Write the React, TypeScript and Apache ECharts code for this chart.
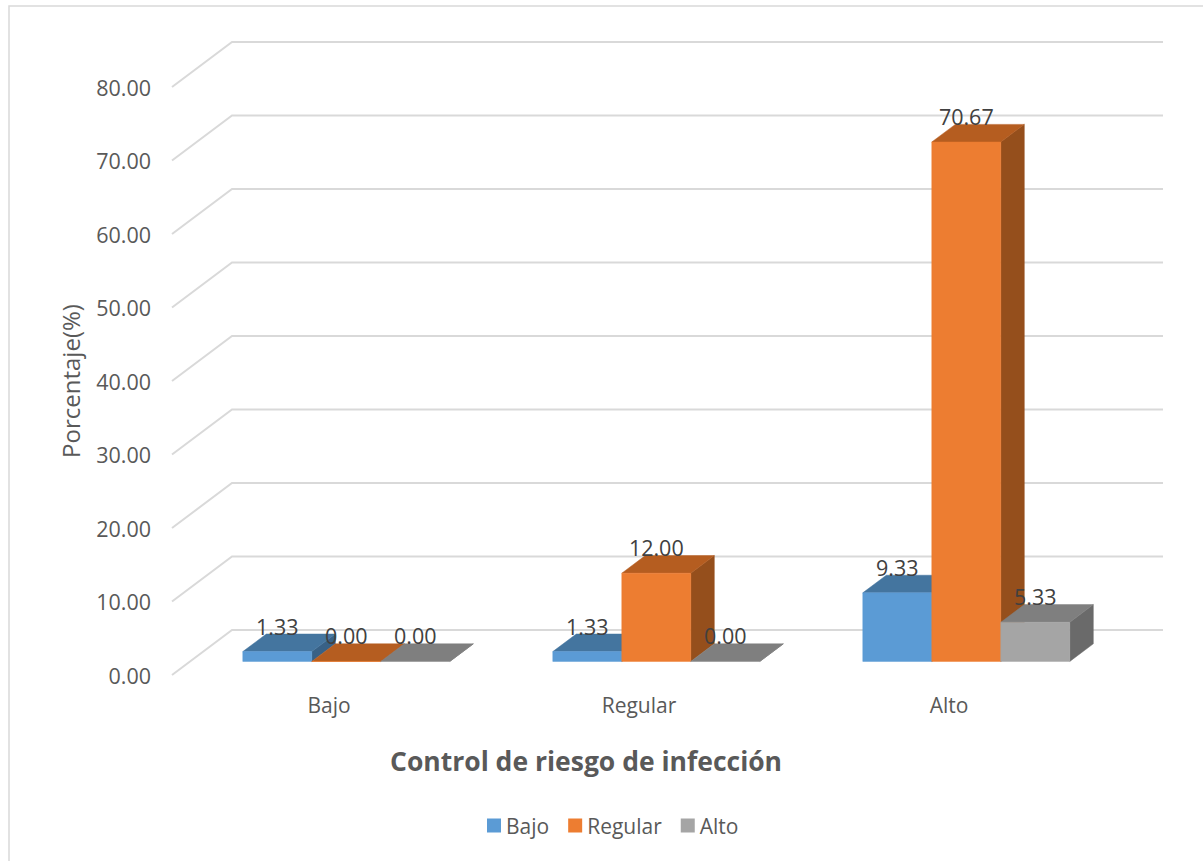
import React, { useEffect, useRef } from "react";
import * as echarts from "echarts";

const categories = ["Bajo", "Regular", "Alto"];
const bajoValues = [1.33, 1.33, 9.33];
const regularValues = [0, 12, 70.67];
const altoValues = [0, 0, 5.33];
const yTicks = [0, 10, 20, 30, 40, 50, 60, 70, 80];

const FONT = "'Open Sans'";
const LABEL_SIZE = 21.5;

// Projection of the oblique box: wall depth, floor inset of the bars and bar depth.
const WALL_DX = 60;
const WALL_DY = -45;
const INSET_DX = 19.3;
const INSET_DY = -13.6;
const BAR_DX = 23.5;
const BAR_DY = -17.6;
const BAR_WIDTH = 69;

type Shades = { front: string; top: string; side: string };
const bajoShades: Shades = { front: "#5B9BD5", top: "#44759F", side: "#386186" };
const regularShades: Shades = { front: "#ED7D31", top: "#B55D20", side: "#954F1C" };
const altoShades: Shades = { front: "#A5A5A5", top: "#7F7F7F", side: "#6A6A6A" };

const poly = (points: number[][], fill: string) => ({
  type: "polygon",
  shape: { points },
  style: { fill, stroke: fill, lineWidth: 0.5 },
  silent: true,
});

function barRenderer(order: number, shades: Shades) {
  return (_params: any, api: any) => {
    const cat = api.value(0);
    const val = api.value(1);
    const base = api.coord([cat, 0]);
    const head = api.coord([cat, val]);
    const x0 = base[0] + INSET_DX + (order - 1.5) * BAR_WIDTH;
    const x1 = x0 + BAR_WIDTH;
    const yb = base[1] + INSET_DY;
    const yt = head[1] + INSET_DY;
    return {
      type: "group",
      children: [
        poly(
          [
            [x1, yb],
            [x1 + BAR_DX, yb + BAR_DY],
            [x1 + BAR_DX, yt + BAR_DY],
            [x1, yt],
          ],
          shades.side
        ),
        poly(
          [
            [x0, yt],
            [x1, yt],
            [x1 + BAR_DX, yt + BAR_DY],
            [x0 + BAR_DX, yt + BAR_DY],
          ],
          shades.top
        ),
        poly(
          [
            [x0, yb],
            [x1, yb],
            [x1, yt],
            [x0, yt],
          ],
          shades.front
        ),
        {
          type: "text",
          z2: 50,
          silent: true,
          style: {
            x: (x0 + x1) / 2,
            y: yt + BAR_DY + 3,
            text: Number(val).toFixed(2),
            fill: "#404040",
            font: `${LABEL_SIZE}px ${FONT}`,
            align: "center",
            verticalAlign: "bottom",
          },
        },
      ],
    };
  };
}

function wallRenderer(params: any, api: any) {
  const p = api.coord([0, api.value(1)]);
  const left = params.coordSys.x;
  const right = left + params.coordSys.width + WALL_DX + 1;
  return {
    type: "polyline",
    silent: true,
    shape: {
      points: [
        [left, p[1]],
        [left + WALL_DX, p[1] + WALL_DY],
        [right, p[1] + WALL_DY],
      ],
    },
    style: { fill: "none", stroke: "#D9D9D9", lineWidth: 2 },
  };
}

const asSeries = (name: string, values: number[], order: number, shades: Shades) => ({
  type: "custom",
  name,
  z: 3,
  clip: false,
  itemStyle: { color: shades.front },
  renderItem: barRenderer(order, shades),
  data: values.map((v, i) => [i, v]),
});

export default function App() {
  const ref = useRef<HTMLDivElement>(null);

  useEffect(() => {
    const chart = echarts.init(ref.current!, undefined, { renderer: "svg" });
    chart.setOption({
      animation: false,
      backgroundColor: "#FFFFFF",
      textStyle: { fontFamily: FONT },
      grid: { left: 172, top: 87, width: 930, height: 588, containLabel: false },
      title: {
        text: "Control de riesgo de infección",
        left: 385,
        top: 742,
        textStyle: { fontFamily: FONT, fontSize: 26.5, fontWeight: "bold", color: "#595959" },
      },
      legend: {
        left: 482,
        top: 810,
        itemWidth: 14,
        itemHeight: 14,
        itemGap: 19,
        selectedMode: false,
        icon: "rect",
        data: ["Bajo", "Regular", "Alto"],
        textStyle: { fontFamily: FONT, fontSize: 21, color: "#595959" },
      },
      xAxis: {
        type: "category",
        data: categories,
        axisLine: { show: false },
        axisTick: { show: false },
        splitLine: { show: false },
        axisLabel: {
          margin: 19,
          padding: [0, 0, 0, 4],
          fontFamily: FONT,
          fontSize: 21,
          color: "#595959",
        },
      },
      yAxis: {
        type: "value",
        min: 0,
        max: 80,
        interval: 10,
        name: "Porcentaje(%)",
        nameLocation: "middle",
        nameGap: 90,
        nameTextStyle: { fontFamily: FONT, fontSize: 24, color: "#595959" },
        axisLine: { show: false },
        axisTick: { show: false },
        splitLine: { show: false },
        axisLabel: {
          margin: 21,
          padding: [6, 0, 0, 0],
          fontFamily: FONT,
          fontSize: LABEL_SIZE,
          color: "#595959",
          formatter: (v: number) => v.toFixed(2),
        },
      },
      graphic: [
        {
          type: "rect",
          silent: true,
          z: 0,
          shape: { x: 9, y: 6, width: 1400, height: 1100 },
          style: { fill: "none", stroke: "#D9D9D9", lineWidth: 1.5 },
        },
      ],
      series: [
        {
          type: "custom",
          name: "Cuadrícula",
          z: 1,
          clip: false,
          renderItem: wallRenderer,
          data: yTicks.map((t) => [0, t]),
        },
        asSeries("Bajo", bajoValues, 0, bajoShades),
        asSeries("Regular", regularValues, 1, regularShades),
        asSeries("Alto", altoValues, 2, altoShades),
      ],
    });
    return () => chart.dispose();
  }, []);

  return (
    <div
      ref={ref}
      style={{ position: "fixed", left: 0, top: 0, width: 1203, height: 861 }}
    />
  );
}
